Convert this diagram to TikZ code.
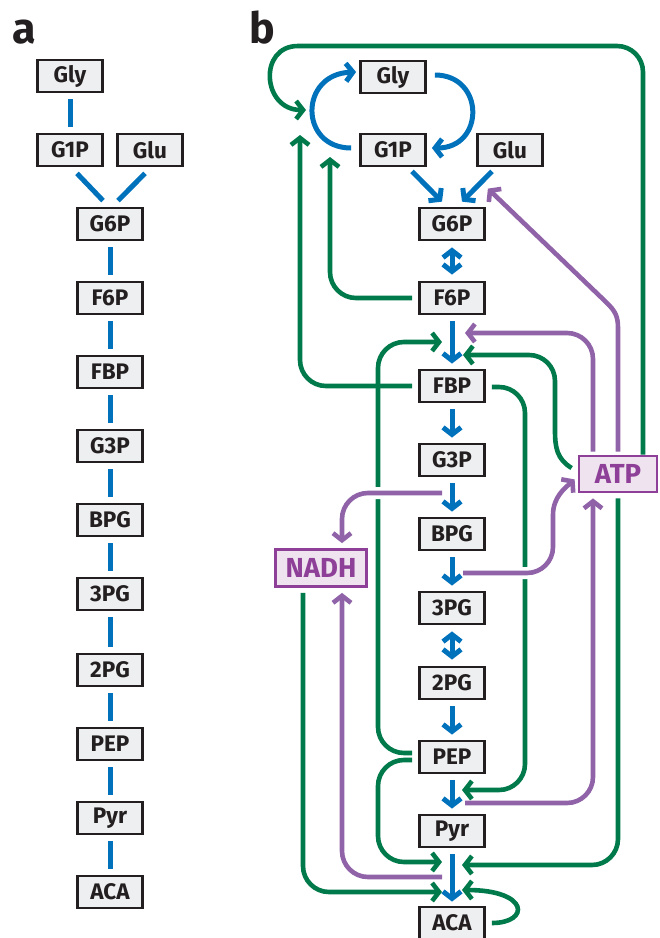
\documentclass[tikz,border=0pt]{standalone}
\usepackage{fontspec}
\setmainfont{Fira Sans}
\usetikzlibrary{arrows.meta,calc}
\definecolor{cblue}{HTML}{0072BC}
\definecolor{cgreen}{HTML}{007A4B}
\definecolor{cpurple}{HTML}{9062A8}
\definecolor{cptext}{HTML}{8E3F97}
\definecolor{cpfill}{HTML}{EEE3EE}
\definecolor{cgfill}{HTML}{EEEFF1}
\definecolor{cline}{HTML}{231F20}
\pgfdeclarelayer{bg}
\pgfsetlayers{bg,main}
\begin{document}
\begin{tikzpicture}[x=1pt,y=-1pt,
  mbox/.style={draw=cline, fill=cgfill, line width=2.8pt, minimum width=65pt, minimum height=32pt, inner sep=0pt,
    font=\bfseries\fontsize{22.5}{22.5}\selectfont, text=cline},
  pbox/.style={draw=cptext, fill=cpfill, line width=2.8pt, minimum height=37pt, inner sep=0pt,
    font=\bfseries\fontsize{27.5}{27.5}\selectfont, text=cptext},
  bl/.style={draw=cblue, line width=5pt},
  gr/.style={draw=cgreen, line width=4.6pt, rounded corners=26pt},
  pu/.style={draw=cpurple, line width=4.6pt, rounded corners=26pt},
  arr/.style={-{Straight Barb[length=7pt,width=18pt]}},
  darr/.style={{Straight Barb[length=7pt,width=18pt]}-{Straight Barb[length=7pt,width=18pt]}},
  ko/.style={preaction={draw=white, line width=12pt, -}},
  gap/.style={shorten <=6pt, shorten >=6pt},
  lbl/.style={font=\bfseries\fontsize{43}{43}\selectfont, text=cline, inner sep=0pt, anchor=base west}
]
\useasboundingbox (0,0) rectangle (660,938);

% panel labels
\node[lbl] (la) at (12,43) {a};
\node[lbl] (lb) at (249,43) {b};

% ---------------- panel a ----------------
\node[mbox] (aGly) at (70,76) {Gly};
\node[mbox] (aG1P) at (70,150) {G1P};
\node[mbox] (aGlu) at (150,150) {Glu};
\node[mbox] (aG6P) at (110,224) {G6P};
\node[mbox] (aF6P) at (110,298) {F6P};
\node[mbox] (aFBP) at (110,372) {FBP};
\node[mbox] (aG3P) at (110,446) {G3P};
\node[mbox] (aBPG) at (110,520) {BPG};
\node[mbox] (a3PG) at (110,594) {3PG};
\node[mbox] (a2PG) at (110,670) {2PG};
\node[mbox] (aPEP) at (110,744) {PEP};
\node[mbox] (aPyr) at (110,818) {Pyr};
\node[mbox] (aACA) at (110,892) {ACA};

\begin{pgfonlayer}{bg}
\draw[bl,gap] (aGly) -- (aG1P);
\draw[bl] ($(aG1P.south)+(7,6)$) -- ($(aG6P.north)+(-7,-6)$);
\draw[bl] ($(aGlu.south)+(-5,6)$) -- ($(aG6P.north)+(8,-6)$);
\draw[bl,gap] (aG6P) -- (aF6P);
\draw[bl,gap] (aF6P) -- (aFBP);
\draw[bl,gap] (aFBP) -- (aG3P);
\draw[bl,gap] (aG3P) -- (aBPG);
\draw[bl,gap] (aBPG) -- (a3PG);
\draw[bl,gap] (a3PG) -- (a2PG);
\draw[bl,gap] (a2PG) -- (aPEP);
\draw[bl,gap] (aPEP) -- (aPyr);
\draw[bl,gap] (aPyr) -- (aACA);
\end{pgfonlayer}

% ---------------- panel b ----------------
\node[mbox] (Gly) at (393,77) {Gly};
\node[mbox] (G1P) at (393,150) {G1P};
\node[mbox] (Glu) at (510,150) {Glu};
\node[mbox] (G6P) at (452,224) {G6P};
\node[mbox] (F6P) at (452,298) {F6P};
\node[mbox] (FBP) at (452,386) {FBP};
\node[mbox] (G3P) at (452,460) {G3P};
\node[mbox] (BPG) at (452,534) {BPG};
\node[mbox] (P3G) at (452,608) {3PG};
\node[mbox] (P2G) at (452,683) {2PG};
\node[mbox] (PEP) at (452,757) {PEP};
\node[mbox] (Pyr) at (452,831) {Pyr};
\node[mbox] (ACA) at (452,923) {ACA};
\node[pbox, minimum width=91pt] (NADH) at (321,568) {NADH};
\node[pbox, minimum width=78pt, minimum height=36pt] (ATP) at (618,474) {ATP};

% named free ends
\coordinate (kGlyL) at (306,110);
\coordinate (kGlyL2) at (300,135);
\coordinate (kGlyL3) at (330,157);
\coordinate (kFBPl) at (442,342);
\coordinate (kFBPr1) at (465,333);
\coordinate (kFBPr2) at (463,355);
\coordinate (kG3Pb) at (442,493);
\coordinate (kBPGb) at (463,573);
\coordinate (kPyrR1) at (462,790);
\coordinate (kPEPb) at (465,803);
\coordinate (kACAl1) at (442,862);
\coordinate (kACAr1) at (462,865);
\coordinate (kPyrb) at (442,877);
\coordinate (kACAl2) at (442,892);
\coordinate (kACAr2) at (462,890);

\begin{pgfonlayer}{bg}
% green
\draw[gr,sharp corners,arr] ($(ATP.north)+(25,0)$) -- (643,72) .. controls (643,57.6) and (631.4,46) .. (617,46)
   -- (298,46) .. controls (258,46) and (262,110) .. (kGlyL);
\draw[gr,arr] ($(F6P.west)+(-6,0)$) -| (kGlyL3);
\draw[gr,arr] ($(FBP.west)+(-6,0)$) -| (kGlyL2);
\draw[gr,arr] ($(PEP.west)+(-6,-4)$) -| (378,342) -- (kFBPl);
\draw[gr,sharp corners,arr] ($(ATP.west)+(-6,-6)$) .. controls (557,459) and (555,448) .. (555,430)
   -- (555,381) .. controls (555,366.6) and (543.4,355) .. (529,355) -- (kFBPr2);
\draw[gr,arr] ($(FBP.east)+(6,1)$) -| (525,790) -- (kPyrR1);
\draw[gr,arr] ($(PEP.west)+(-6,3)$) -| (378,862) -- (kACAl1);
\draw[gr,arr] ($(ATP.south)+(0,5)$) |- (kACAr1);
\draw[gr,arr] ($(NADH.south)+(-18,5)$) |- (kACAl2);
\draw[gr,sharp corners,arr] ($(ACA.east)+(6,0)$) .. controls (530,923) and (530,890) .. (kACAr2);
% purple
\draw[pu,sharp corners,arr] ($(ATP.north)+(0,-3)$) -- (618,328) .. controls (618,316) and (615,311) .. (607,303) -- ($(G6P.north east)+(2,-18)$);
\draw[pu,arr] ($(ATP.north)+(-25,-3)$) |- (kFBPr1);
\draw[pu,arr,ko] (kG3Pb) -| ($(NADH.north)+(21,-5)$);
\draw[pu,sharp corners,arr,ko] (kBPGb) -- (527,573) .. controls (541.4,573) and (553,561.4) .. (553,547)
   -- (553,515) .. controls (553,497) and (565,488) .. ($(ATP.south west)+(-3,-14)$);
\draw[pu,arr] (kPEPb) -| ($(ATP.south)+(-25,5)$);
\draw[pu,arr] (kPyrb) -| ($(NADH.south)+(21,5)$);
% blue
\draw[bl,arr] ($(Gly.east)+(8,-2)$) .. controls (485,75) and (485,148) .. ($(G1P.east)+(5,-2)$);
\draw[bl,arr] ($(G1P.west)+(-8,-2)$) .. controls (299,148) and (299,74) .. ($(Gly.west)+(-3,-5)$);
\draw[bl,arr] ($(G1P.south)+(19,4)$) -- ($(G6P.north)+(-10,-5)$);
\draw[bl,arr] ($(Glu.south)+(-18,4)$) -- ($(G6P.north)+(10,-5)$);
\draw[bl,darr,gap] (G6P) -- (F6P);
\draw[bl,arr,shorten <=6pt,shorten >=5pt] (F6P) -- (FBP);
\draw[bl,arr,shorten <=6pt,shorten >=5pt] (FBP) -- (G3P);
\draw[bl,arr,shorten <=6pt,shorten >=5pt] (G3P) -- (BPG);
\draw[bl,arr,shorten <=6pt,shorten >=5pt] (BPG) -- (P3G);
\draw[bl,darr,gap] (P3G) -- (P2G);
\draw[bl,arr,shorten <=6pt,shorten >=5pt] (P2G) -- (PEP);
\draw[bl,arr,shorten <=6pt,shorten >=5pt] (PEP) -- (Pyr);
\draw[bl,arr,shorten <=6pt,shorten >=4pt] (Pyr) -- (ACA);
\end{pgfonlayer}
\end{tikzpicture}
\end{document}
